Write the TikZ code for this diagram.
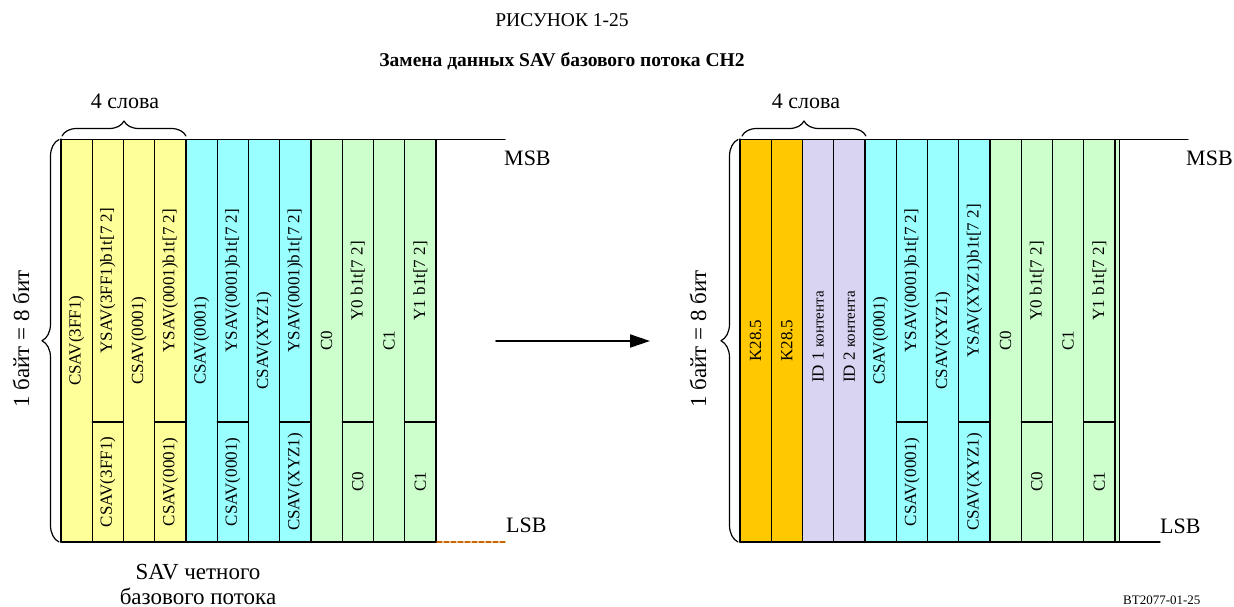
\documentclass[tikz,border=0pt]{standalone}
\usepackage{fontspec}
\setmainfont{Liberation Serif}
\usetikzlibrary{arrows.meta}
\usetikzlibrary{decorations.pathreplacing}
\definecolor{savyellow}{RGB}{255,255,153}
\definecolor{savcyan}{RGB}{153,255,255}
\definecolor{savgreen}{RGB}{204,255,204}
\definecolor{korange}{RGB}{255,200,0}
\definecolor{idlilac}{RGB}{217,212,242}
\definecolor{dashorange}{RGB}{204,102,0}

\begin{document}
\begin{tikzpicture}[line cap=round,line join=round,>={Triangle[length=20pt,width=13pt]},x=1pt,y=-1pt,
  cell/.style={draw=black,line width=1.2pt},
  vtxt/.style={rotate=90,inner sep=0pt,font=\fontsize{17}{19}\selectfont},
  lbl/.style={inner sep=0pt,font=\fontsize{23}{25}\selectfont},
  bracedeco/.style={decorate,decoration={brace,amplitude=#1},line width=1.2pt}]
\clip(0,0) rectangle (1234,607);
% title
\node[inner sep=0pt,font=\fontsize{19.5}{22}\selectfont] (fignum) at (562,20) {РИСУНОК 1-25};
\node[inner sep=0pt,font=\bfseries\fontsize{19.5}{22}\selectfont] (figtitle) at (562,61) {Замена данных SAV базового потока CH2};
% left stream
\draw [cell,fill=savyellow] (61,139.5) rectangle (92.25,542);
\node [vtxt] (l1) at (76.6,340.75) {CSAV(3FF1)};
\draw [cell,fill=savyellow] (92.25,139.5) rectangle (123.5,542);
\draw [cell] (92.25,422) -- (123.5,422);
\node [vtxt] (l2a) at (107.9,280.75) {YSAV(3FF1)b1t[7 2]};
\node [vtxt] (l2b) at (107.9,482) {CSAV(3FF1)};
\draw [cell,fill=savyellow] (123.5,139.5) rectangle (154.75,542);
\node [vtxt] (l3) at (139.1,340.75) {CSAV(0001)};
\draw [cell,fill=savyellow] (154.75,139.5) rectangle (186,542);
\draw [cell] (154.75,422) -- (186,422);
\node [vtxt] (l4a) at (170.4,280.75) {YSAV(0001)b1t[7 2]};
\node [vtxt] (l4b) at (170.4,482) {CSAV(0001)};
\draw [cell,fill=savcyan] (186,139.5) rectangle (217.25,542);
\node [vtxt] (l5) at (201.6,340.75) {CSAV(0001)};
\draw [cell,fill=savcyan] (217.25,139.5) rectangle (248.5,542);
\draw [cell] (217.25,422) -- (248.5,422);
\node [vtxt] (l6a) at (232.9,280.75) {YSAV(0001)b1t[7 2]};
\node [vtxt] (l6b) at (232.9,482) {CSAV(0001)};
\draw [cell,fill=savcyan] (248.5,139.5) rectangle (279.75,542);
\node [vtxt] (l7) at (264.1,340.75) {CSAV(XYZ1)};
\draw [cell,fill=savcyan] (279.75,139.5) rectangle (311,542);
\draw [cell] (279.75,422) -- (311,422);
\node [vtxt] (l8a) at (295.4,280.75) {YSAV(0001)b1t[7 2]};
\node [vtxt] (l8b) at (295.4,482) {CSAV(XYZ1)};
\draw [cell,fill=savgreen] (311,139.5) rectangle (342.25,542);
\node [vtxt] (l9) at (326.6,340.75) {C0};
\draw [cell,fill=savgreen] (342.25,139.5) rectangle (373.5,542);
\draw [cell] (342.25,422) -- (373.5,422);
\node [vtxt] (l10a) at (357.9,280.75) {Y0 b1t[7 2]};
\node [vtxt] (l10b) at (357.9,482) {C0};
\draw [cell,fill=savgreen] (373.5,139.5) rectangle (404.75,542);
\node [vtxt] (l11) at (389.1,340.75) {C1};
\draw [cell,fill=savgreen] (404.75,139.5) rectangle (436,542);
\draw [cell] (404.75,422) -- (436,422);
\node [vtxt] (l12a) at (420.4,280.75) {Y1 b1t[7 2]};
\node [vtxt] (l12b) at (420.4,482) {C1};
\draw [line width=2.6pt] (61,139.5) -- (61,542) -- (436,542);
\draw [line width=1.4pt] (436,139.5) -- (505,139.5);
\draw [line width=1.4pt,color=dashorange,dash pattern=on 5pt off 2pt] (437,542) -- (505,542);
\node [lbl,anchor=west,font=\fontsize{22}{24}\selectfont] (msbL) at (504,158) {MSB};
\node [lbl,anchor=west,font=\fontsize{22}{24}\selectfont] (lsbL) at (506,525) {LSB};
\draw [bracedeco=17pt] (59,542) -- (59,139.5);
\node [lbl,rotate=90] (byteL) at (21,339) {1 байт = 8 бит};
\draw [bracedeco=15pt] (62,136) -- (186,136);
\node [lbl,font=\fontsize{22}{24}\selectfont] (wordsL) at (125,101) {4 слова};
\node [lbl,align=center] (savL) at (198,584) {SAV четного\\базового потока};
% arrow
\coordinate (arrS) at (496,341);
\coordinate (arrE) at (650,341);
\draw [->,line width=2pt] (arrS) -- (arrE);
% right stream
\draw [cell,fill=korange] (740,139.5) rectangle (771.25,542);
\node [vtxt] (r1) at (755.6,340.75) {K28.5};
\draw [cell,fill=korange] (771.25,139.5) rectangle (802.5,542);
\node [vtxt] (r2) at (786.9,340.75) {K28.5};
\draw [cell,fill=idlilac] (802.5,139.5) rectangle (833.75,542);
\node [vtxt] (r3) at (818.1,337) {ID 1 {\fontsize{15}{17}\selectfont контента}};
\draw [cell,fill=idlilac] (833.75,139.5) rectangle (865,542);
\node [vtxt] (r4) at (849.4,337) {ID 2 {\fontsize{15}{17}\selectfont контента}};
\draw [cell,fill=savcyan] (865,139.5) rectangle (896.25,542);
\node [vtxt] (r5) at (880.6,340.75) {CSAV(0001)};
\draw [cell,fill=savcyan] (896.25,139.5) rectangle (927.5,542);
\draw [cell] (896.25,422) -- (927.5,422);
\node [vtxt] (r6a) at (911.9,280.75) {YSAV(0001)b1t[7 2]};
\node [vtxt] (r6b) at (911.9,482) {CSAV(0001)};
\draw [cell,fill=savcyan] (927.5,139.5) rectangle (958.75,542);
\node [vtxt] (r7) at (943.1,340.75) {CSAV(XYZ1)};
\draw [cell,fill=savcyan] (958.75,139.5) rectangle (990,542);
\draw [cell] (958.75,422) -- (990,422);
\node [vtxt] (r8a) at (974.4,280.75) {YSAV(XYZ1)b1t[7 2]};
\node [vtxt] (r8b) at (974.4,482) {CSAV(XYZ1)};
\draw [cell,fill=savgreen] (990,139.5) rectangle (1021.25,542);
\node [vtxt] (r9) at (1005.6,340.75) {C0};
\draw [cell,fill=savgreen] (1021.25,139.5) rectangle (1052.5,542);
\draw [cell] (1021.25,422) -- (1052.5,422);
\node [vtxt] (r10a) at (1036.9,280.75) {Y0 b1t[7 2]};
\node [vtxt] (r10b) at (1036.9,482) {C0};
\draw [cell,fill=savgreen] (1052.5,139.5) rectangle (1083.75,542);
\node [vtxt] (r11) at (1068.1,340.75) {C1};
\draw [cell,fill=savgreen] (1083.75,139.5) rectangle (1115,542);
\draw [cell] (1083.75,422) -- (1115,422);
\node [vtxt] (r12a) at (1099.4,280.75) {Y1 b1t[7 2]};
\node [vtxt] (r12b) at (1099.4,482) {C1};
\draw [line width=0.8pt,fill=savgreen] (1115,139.5) rectangle (1119,542);
\draw [line width=2.6pt] (740,139.5) -- (740,542) -- (1119,542);
\draw [line width=1.4pt] (1119,139.5) -- (1188,139.5);
\draw [line width=1.4pt] (1119,542) -- (1160,542);
\node [lbl,anchor=west,font=\fontsize{22}{24}\selectfont] (msbR) at (1186,158) {MSB};
\node [lbl,anchor=west,font=\fontsize{22}{24}\selectfont] (lsbR) at (1160,526) {LSB};
\draw [bracedeco=17pt] (738,542) -- (738,139.5);
\node [lbl,rotate=90] (byteR) at (698,339) {1 байт = 8 бит};
\draw [bracedeco=15pt] (742,136) -- (866,136);
\node [lbl,font=\fontsize{22}{24}\selectfont] (wordsR) at (806,101) {4 слова};
% figure code
\node [inner sep=0pt,anchor=south west,font=\fontsize{13}{15}\selectfont] (figcode) at (1123,605) {BT2077-01-25};
\end{tikzpicture}
\end{document}
